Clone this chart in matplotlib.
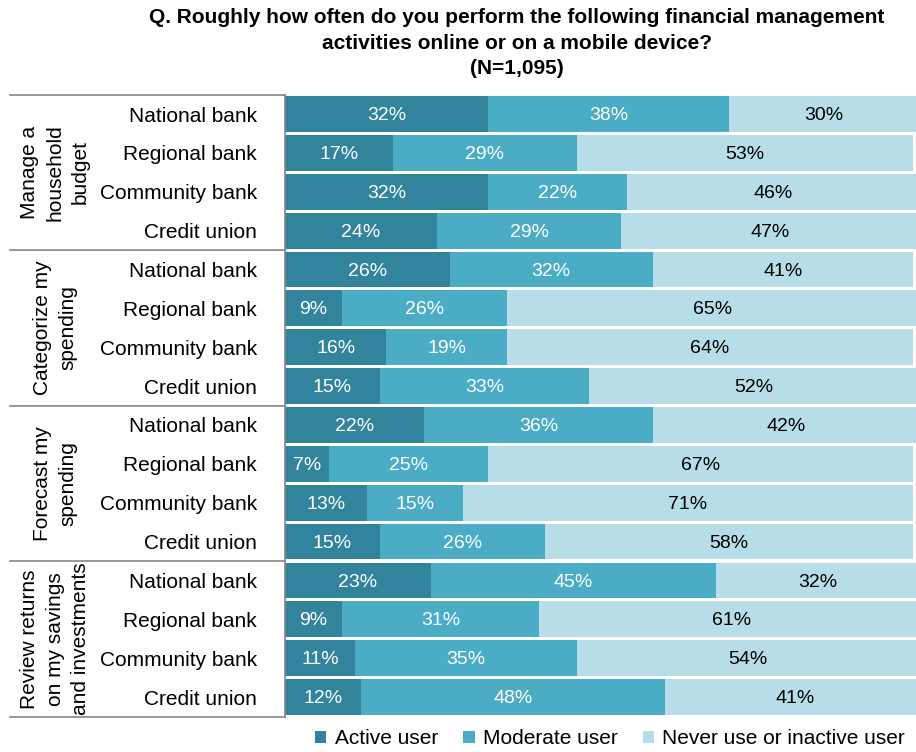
import matplotlib
matplotlib.use("Agg")
import matplotlib.pyplot as plt
from matplotlib.patches import Patch
import matplotlib.transforms as mtransforms

plt.rcParams['font.family'] = ['Liberation Sans', 'DejaVu Sans']

activities = ["Manage a\nhousehold\nbudget", "Categorize my\nspending",
              "Forecast my\nspending", "Review returns\non my savings\nand investments"]
institutions = ["National bank", "Regional bank", "Community bank", "Credit union"]
series_names = ["Active user", "Moderate user", "Never use or inactive user"]

active = [32, 17, 32, 24,
          26, 9, 16, 15,
          22, 7, 13, 15,
          23, 9, 11, 12]
moderate = [38, 29, 22, 29,
            32, 26, 19, 33,
            36, 25, 15, 26,
            45, 31, 35, 48]
never = [30, 53, 46, 47,
         41, 65, 64, 52,
         42, 67, 71, 58,
         32, 61, 54, 41]

colors = ["#31849B", "#4BACC6", "#B7DEE8"]
text_colors = ["white", "white", "black"]

W, H = 916, 752
fig = plt.figure(figsize=(W / 100, H / 100), dpi=100)
ax = fig.add_axes([285 / W, 1 - 716.5 / H, 634 / W, (716.5 - 94.6) / H])

rows = list(range(len(active)))
left = [0] * len(rows)
for vals, col, tcol in zip([active, moderate, never], colors, text_colors):
    ax.barh(rows, vals, left=left, height=0.92, color=col, edgecolor='none')
    for r, v, l in zip(rows, vals, left):
        ax.text(l + v / 2, r + 0.04, f"{v}%", ha='center', va='center',
                color=tcol, fontsize=14)
    left = [l + v for l, v in zip(left, vals)]

ax.set_xlim(0, 100)
ax.set_ylim(15.5, -0.5)
ax.set_xticks([])
ax.set_yticks(rows)
ax.set_yticklabels(institutions * len(activities), fontsize=15)
ax.tick_params(axis='y', length=0, pad=20)
for s in ['top', 'right', 'bottom']:
    ax.spines[s].set_visible(False)
ax.spines['left'].set_color('#868686')
ax.spines['left'].set_linewidth(1.2)

# group separators and group labels
trans = mtransforms.blended_transform_factory(ax.transAxes, ax.transData)
x0 = (10 - 285) / 634
for yb in [-0.5, 3.5, 7.5, 11.5, 15.5]:
    ax.plot([x0, 0], [yb, yb], color='#868686', lw=1.2,
            transform=trans, clip_on=False)
for g, name in enumerate(activities):
    ax.text((55 - 285) / 634, g * 4 + 1.5, name, transform=trans,
            rotation=90, ha='center', va='center', multialignment='center',
            fontsize=15, linespacing=1.42)

fig.text(517 / W, 1 - 8 / H,
         "Q. Roughly how often do you perform the following financial management\n"
         "activities online or on a mobile device?\n(N=1,095)",
         ha='center', va='top', fontsize=15, fontweight='bold', linespacing=1.45)

handles = [Patch(facecolor=c, edgecolor='none') for c in colors]
fig.legend(handles, series_names, loc='center left',
           bbox_to_anchor=(315 / W, 1 - 739 / H), ncol=3, frameon=False,
           fontsize=15, handlelength=0.55, handleheight=0.55, handletextpad=0.4,
           columnspacing=1.2, borderaxespad=0, borderpad=0)

fig.savefig("out.png", dpi=100)
